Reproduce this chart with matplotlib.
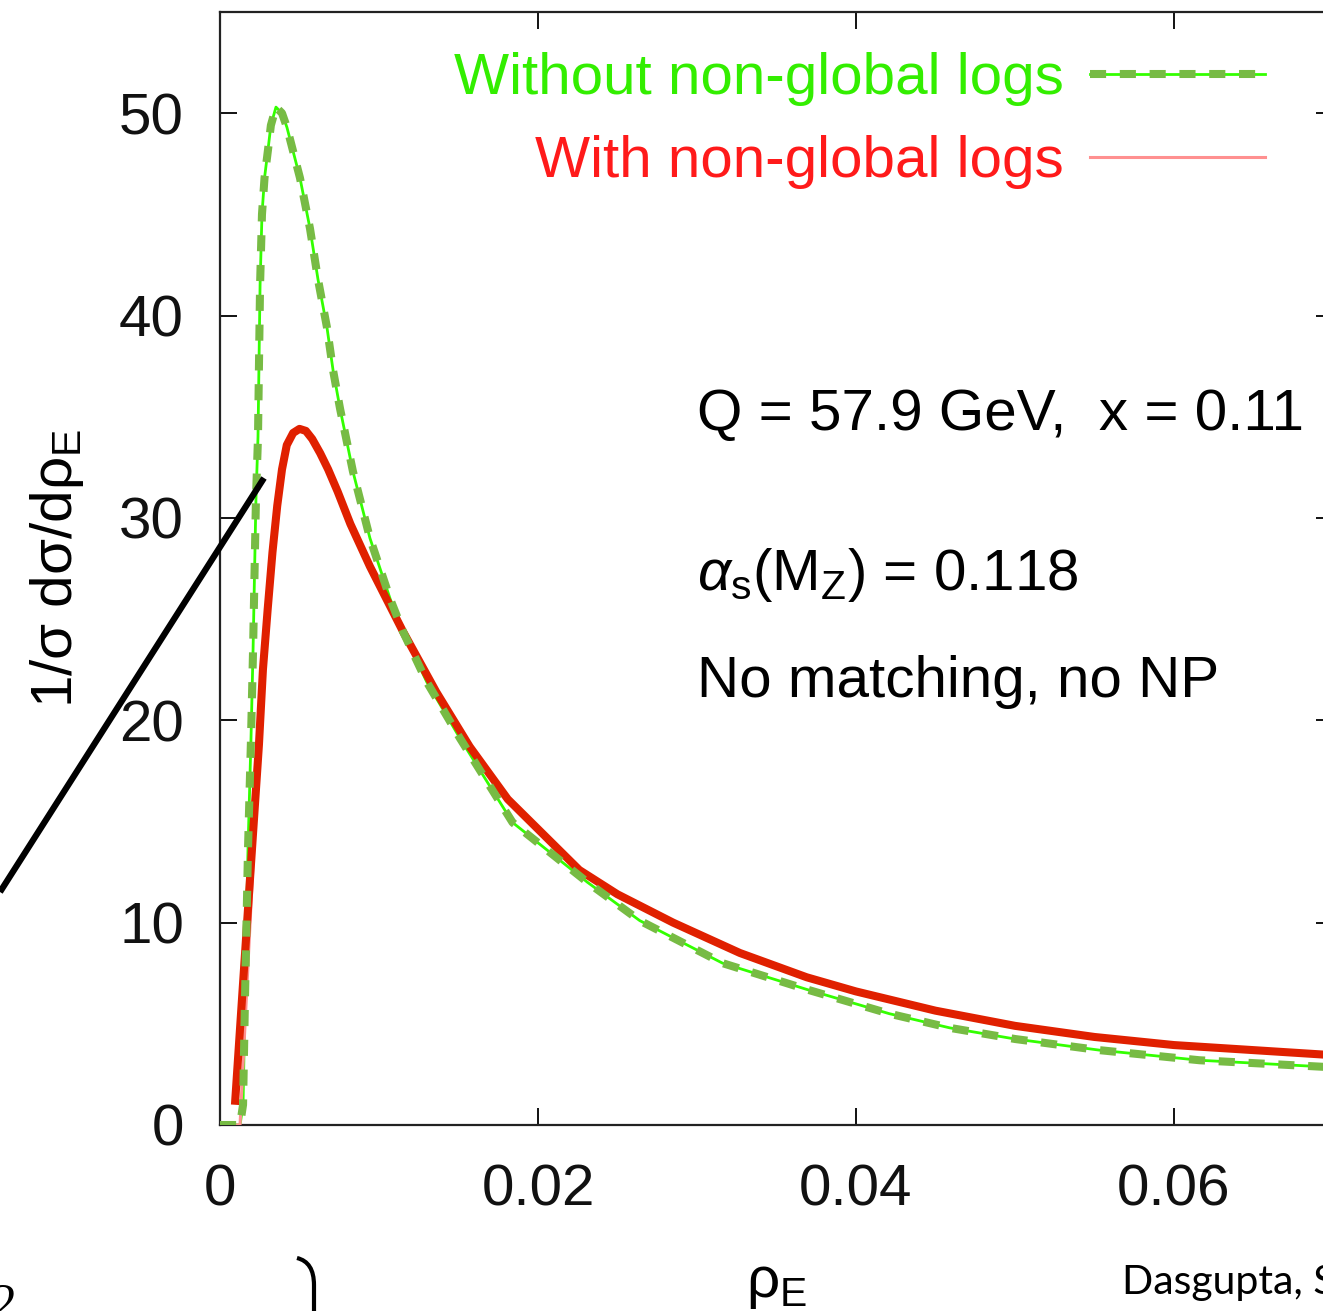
import numpy as np
import matplotlib
matplotlib.use("Agg")
import matplotlib.pyplot as plt
from matplotlib.lines import Line2D
from matplotlib.legend_handler import HandlerTuple
from matplotlib.path import Path
from matplotlib.patches import PathPatch

plt.rcParams['font.family'] = ['Liberation Sans', 'DejaVu Sans']
plt.rcParams['mathtext.fontset'] = 'custom'
plt.rcParams['mathtext.rm'] = 'Liberation Sans'
plt.rcParams['mathtext.it'] = 'Liberation Sans:italic'

# without non-global logs (green)
rho_nong = [0.0, 0.00126, 0.00145, 0.00157, 0.00176, 0.00195, 0.00208, 0.00226, 0.00239,
            0.00245, 0.00252, 0.00264, 0.0028, 0.00302, 0.0032, 0.00352, 0.0039,
            0.00421, 0.00503, 0.00566, 0.00616, 0.00673, 0.00711, 0.00755, 0.00836,
            0.00943, 0.0107, 0.0115, 0.0130, 0.0151, 0.0184, 0.0231, 0.0264, 0.0316,
            0.0369, 0.0421, 0.0459, 0.0500, 0.0553, 0.0616, 0.0700]
val_nong = [0.0, 0.0, 1.0, 6.2, 13.6, 19.1, 23.5, 30.9, 34.0,
            37.5, 41.5, 45.0, 46.8, 48.2, 49.4, 50.3, 50.0,
            49.3, 46.8, 44.3, 41.8, 39.4, 37.3, 35.4, 32.3,
            29.0, 26.0, 24.4, 21.9, 19.1, 14.95, 12.0, 10.1, 8.0,
            6.7, 5.5, 4.8, 4.25, 3.7, 3.2, 2.85]

# with non-global logs (red)
rho_ng = [0.00094, 0.00245, 0.0027, 0.0030, 0.0033, 0.0036, 0.0039, 0.0042, 0.0046,
          0.0050, 0.0054, 0.0058, 0.0063, 0.0068, 0.0074, 0.0082, 0.00943, 0.0115,
          0.0136, 0.0157, 0.0181, 0.0226, 0.0250, 0.0285, 0.0327, 0.0369, 0.0400,
          0.0450, 0.0500, 0.0550, 0.0600, 0.0650, 0.0700]
val_ng = [1.0, 18.8, 22.5, 25.5, 28.3, 30.6, 32.4, 33.6, 34.2,
          34.4, 34.3, 33.9, 33.2, 32.4, 31.3, 29.7, 27.6, 24.4,
          21.4, 18.7, 16.1, 12.6, 11.4, 10.0, 8.5, 7.3, 6.6,
          5.65, 4.9, 4.35, 3.95, 3.7, 3.45]

# thin curve start (drawn from the axis)
rho_ng_start = [0.0, 0.00126]
val_ng_start = [0.0, 0.0]

W, H = 1323, 1311
fig = plt.figure(figsize=(W / 100, H / 100), dpi=100)
ax = fig.add_axes([220 / W, (H - 1125) / H, 1113 / W, 1113 / H])

FS = 42
thin_green, = ax.plot(rho_nong, val_nong, color='#33ff00', lw=2.0, zorder=2)
thick_green, = ax.plot(rho_nong, val_nong, color='#77bb44', lw=5.8,
                       dashes=(2.0, 1.7), dash_capstyle='butt', zorder=4)
thin_red, = ax.plot(rho_ng_start + rho_ng[1:], val_ng_start + val_ng[1:],
                    color='#ff9090', lw=2.2, zorder=3)
ax.plot(rho_ng, val_ng, color='#e02000', lw=5.8, solid_capstyle='butt',
        solid_joinstyle='round', zorder=3)

ax.set_xlim(0, 0.07)
ax.set_ylim(0, 55)
ax.set_xticks([0, 0.02, 0.04, 0.06])
ax.set_xticklabels(['0', '0.02', '0.04', '0.06'])
ax.set_yticks([0, 10, 20, 30, 40, 50])
ax.tick_params(direction='in', length=12, width=1.4, top=True, right=True,
               labelsize=FS, colors='#111111')
ax.tick_params(axis='x', pad=28)
ax.tick_params(axis='y', pad=26)
for s in ax.spines.values():
    s.set_linewidth(1.6)
    s.set_color('#222222')

ax.set_xlabel(r'ρ$_{\rm E}$', fontsize=FS, labelpad=28)
ax.set_ylabel(r'1/σ dσ/dρ$_{\rm E}$', fontsize=FS, labelpad=24)

ax.text(0.0300, 35.1, 'Q = 57.9 GeV,  x = 0.11', fontsize=FS, va='center', ha='left')
ax.text(0.0300, 27.2, r'$\alpha_{\rm s}$(M$_{\rm Z}$) = 0.118', fontsize=FS, va='center', ha='left')
ax.text(0.0300, 21.9, 'No matching, no NP', fontsize=FS, va='center', ha='left')

leg = ax.legend([(thin_green, thick_green), thin_red],
                ['Without non-global logs', 'With non-global logs'],
                handler_map={tuple: HandlerTuple(ndivide=1)},
                loc='upper right', bbox_to_anchor=(1265 / W, 1.0 - 52 / H),
                bbox_transform=fig.transFigure, frameon=False, markerfirst=False,
                fontsize=FS, handlelength=3.0, handletextpad=0.45,
                labelspacing=0.5, borderpad=0, borderaxespad=0)
for t, c in zip(leg.get_texts(), ['#33ee00', '#ff1a1a']):
    t.set_color(c)

# slide decorations around the cropped figure
fig.add_artist(Line2D([0 / W, 264 / W], [1 - 892 / H, 1 - 478 / H],
                      transform=fig.transFigure, color='black', lw=4.5,
                      solid_capstyle='butt'))
brace = Path([(297 / W, 1 - 1258 / H), (314 / W, 1 - 1262 / H), (314 / W, 1 - 1285 / H),
              (314 / W, 1 - 1320 / H)],
             [Path.MOVETO, Path.CURVE3, Path.CURVE3, Path.LINETO])
fig.add_artist(PathPatch(brace, transform=fig.transFigure, fill=False, lw=3, color='black'))
fig.text(1122 / W, 1 - 1294 / H, 'Dasgupta, S', fontsize=29.5, family='Lato',
         ha='left', va='baseline')
fig.text(-8 / W, 1 - 1318 / H, '2', fontsize=36, family='Liberation Serif',
         ha='left', va='baseline')

fig.savefig('out.png', dpi=100)
